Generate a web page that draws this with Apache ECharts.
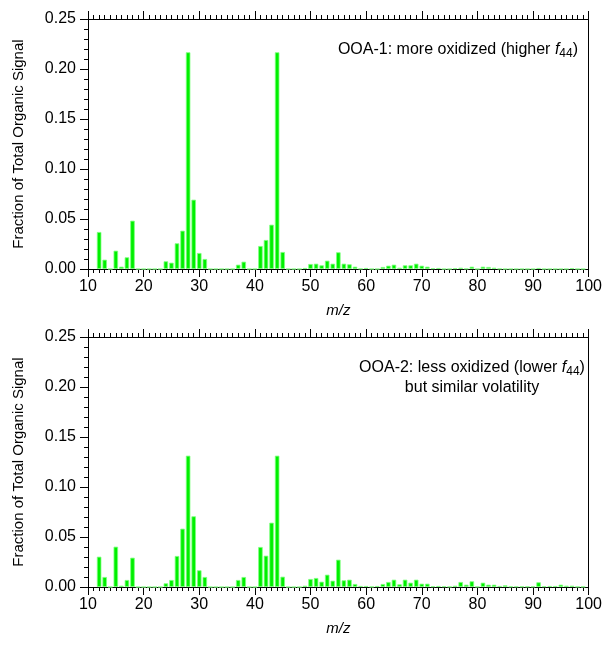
<!DOCTYPE html>
<html><head><meta charset="utf-8">
<script src="https://cdn.jsdelivr.net/npm/echarts@6/dist/echarts.min.js"></script>
<style>html,body{margin:0;padding:0;background:#fff}#c{width:605px;height:646px}</style>
</head><body><div id="c"></div>
<script>
const mz = [12,13,14,15,16,17,18,19,20,21,22,23,24,25,26,27,28,29,30,31,32,33,34,35,36,37,38,39,40,41,42,43,44,45,46,47,48,49,50,51,52,53,54,55,56,57,58,59,60,61,62,63,64,65,66,67,68,69,70,71,72,73,74,75,76,77,78,79,80,81,82,83,84,85,86,87,88,89,90,91,92,93,94,95,96,97,98,99];
const ooa1 = [0.037,0.0093,0,0.0183,0.0023,0.0117,0.0483,0,0,0,0,0,0.0077,0.0063,0.0257,0.0383,0.2167,0.0693,0.016,0.010,0,0,0,0,0,0.0043,0.0073,0,0,0.023,0.029,0.0443,0.2167,0.017,0,0,0,0.001,0.005,0.0053,0.0037,0.0083,0.0053,0.0167,0.0053,0.0047,0.0023,0.0003,0.001,0,0,0.002,0.0033,0.0043,0.0013,0.0037,0.0037,0.0053,0.0033,0.0023,0.0007,0.001,0,0,0.0007,0.0013,0.0003,0.0023,0,0.0023,0.002,0.0013,0.0003,0,0,0,0,0,0,0.001,0,0,0,0,0,0.0007,0,0];
const ooa2 = [0.0303,0.010,0,0.0403,0.0013,0.007,0.0293,0,0,0,0,0,0.0037,0.007,0.031,0.0583,0.1313,0.0707,0.0167,0.010,0,0,0,0,0,0.007,0.010,0,0,0.040,0.0313,0.0643,0.1313,0.0103,0,0,0,0.0013,0.008,0.009,0.0053,0.0123,0.0063,0.0273,0.0067,0.0073,0.003,0.001,0.001,0.0003,0.001,0.003,0.005,0.0073,0.0027,0.0073,0.0043,0.0073,0.0033,0.0033,0.0007,0.001,0.0007,0.0003,0.0013,0.005,0.0023,0.0057,0.0003,0.0043,0.0023,0.0023,0.001,0.0017,0.0005,0.0005,0.0005,0.0005,0.0005,0.0047,0.0007,0.001,0.001,0.0023,0.0013,0.0013,0.0003,0.0003];
const xTicks = [10,20,30,40,50,60,70,80,90,100];
const yTicks = [0.00,0.05,0.10,0.15,0.20,0.25];
const xName = 'm/z';
const yName = 'Fraction of Total Organic Signal';

const FONT = '"Liberation Sans", Arial, Helvetica, sans-serif';
const black = '#000';
function xAxes(gi){
  return [{
    gridIndex: gi, type:'value', position:'bottom', min: xTicks[0], max: xTicks[xTicks.length-1], interval: 10,
    axisLine:{show:true, onZero:false, lineStyle:{color:black,width:1}},
    axisTick:{show:true, inside:false, length:8, lineStyle:{color:black}},
    minorTick:{show:true, splitNumber:10, length:4, lineStyle:{color:black}},
    axisLabel:{show:true, color:black, fontSize:16, fontFamily:FONT, margin:10},
    splitLine:{show:false}, minorSplitLine:{show:false},
    name: xName, nameLocation:'middle', nameGap:34,
    nameTextStyle:{fontStyle:'italic', fontSize:15, fontFamily:FONT, color:black}
  },{
    gridIndex: gi, type:'value', position:'top', min: xTicks[0], max: xTicks[xTicks.length-1], interval: 10,
    axisLine:{show:true, onZero:false, lineStyle:{color:black,width:1}},
    axisTick:{show:true, inside:false, length:8, lineStyle:{color:black}},
    minorTick:{show:true, splitNumber:10, length:4, lineStyle:{color:black}},
    axisLabel:{show:false}, splitLine:{show:false}
  }];
}
function yAxes(gi){
  return [{
    gridIndex: gi, type:'value', position:'left', min: yTicks[0], max: yTicks[yTicks.length-1], interval: 0.05,
    axisLine:{show:true, onZero:false, lineStyle:{color:black,width:1}},
    axisTick:{show:true, inside:false, length:8, lineStyle:{color:black}},
    minorTick:{show:true, splitNumber:5, length:4, lineStyle:{color:black}},
    axisLabel:{show:true, color:black, fontSize:16, fontFamily:FONT, margin:12, formatter:v=>v.toFixed(2)},
    splitLine:{show:false}, minorSplitLine:{show:false},
    name: yName, nameLocation:'middle', nameGap:62,
    nameTextStyle:{fontSize:15, fontFamily:FONT, color:black}
  },{
    gridIndex: gi, type:'value', position:'right', min: yTicks[0], max: yTicks[yTicks.length-1], interval: 0.05,
    axisLine:{show:true, onZero:false, lineStyle:{color:black,width:1}},
    axisTick:{show:false}, axisLabel:{show:false}, splitLine:{show:false}
  }];
}
function pairs(vals){ return mz.map((m,i)=>[m, vals[i]]); }
const barStyle = {color:'#00f000', borderColor:'#80ff80', borderWidth:0.8};
const rich = {
  a:{fontSize:16, fontFamily:FONT, color:black, fontWeight:'normal'},
  i:{fontSize:16, fontFamily:FONT, color:black, fontStyle:'italic', fontWeight:'normal'},
  s:{fontSize:12, fontFamily:FONT, color:black, fontWeight:'normal', padding:[8,0,0,0]}
};
const option = {
  animation:false,
  backgroundColor:'#fff',
  grid:[{left:88, top:19, width:503, height:250},{left:88, top:337, width:503, height:250}],
  xAxis:[...xAxes(0), ...xAxes(1)],
  yAxis:[...yAxes(0), ...yAxes(1)],
  title:[
    {text:'{a|OOA-1: more oxidized (higher }{i|f}{s|44}{a|)}', right:22, top:35, textStyle:{rich, fontWeight:'normal'}},
    {text:'{a|OOA-2: less oxidized (lower }{i|f}{s|44}{a|)}\n{a|but similar volatility}', left:467, textAlign:'center', top:353, textStyle:{rich, fontWeight:'normal', lineHeight:20}}
  ],
  series:[
    {type:'bar', xAxisIndex:0, yAxisIndex:0, data:pairs(ooa1), barWidth:4.5, itemStyle:barStyle},
    {type:'bar', xAxisIndex:2, yAxisIndex:2, data:pairs(ooa2), barWidth:4.5, itemStyle:barStyle}
  ]
};
const chart = echarts.init(document.getElementById('c'), null, {renderer:'canvas'});
chart.setOption(option);
</script></body></html>
